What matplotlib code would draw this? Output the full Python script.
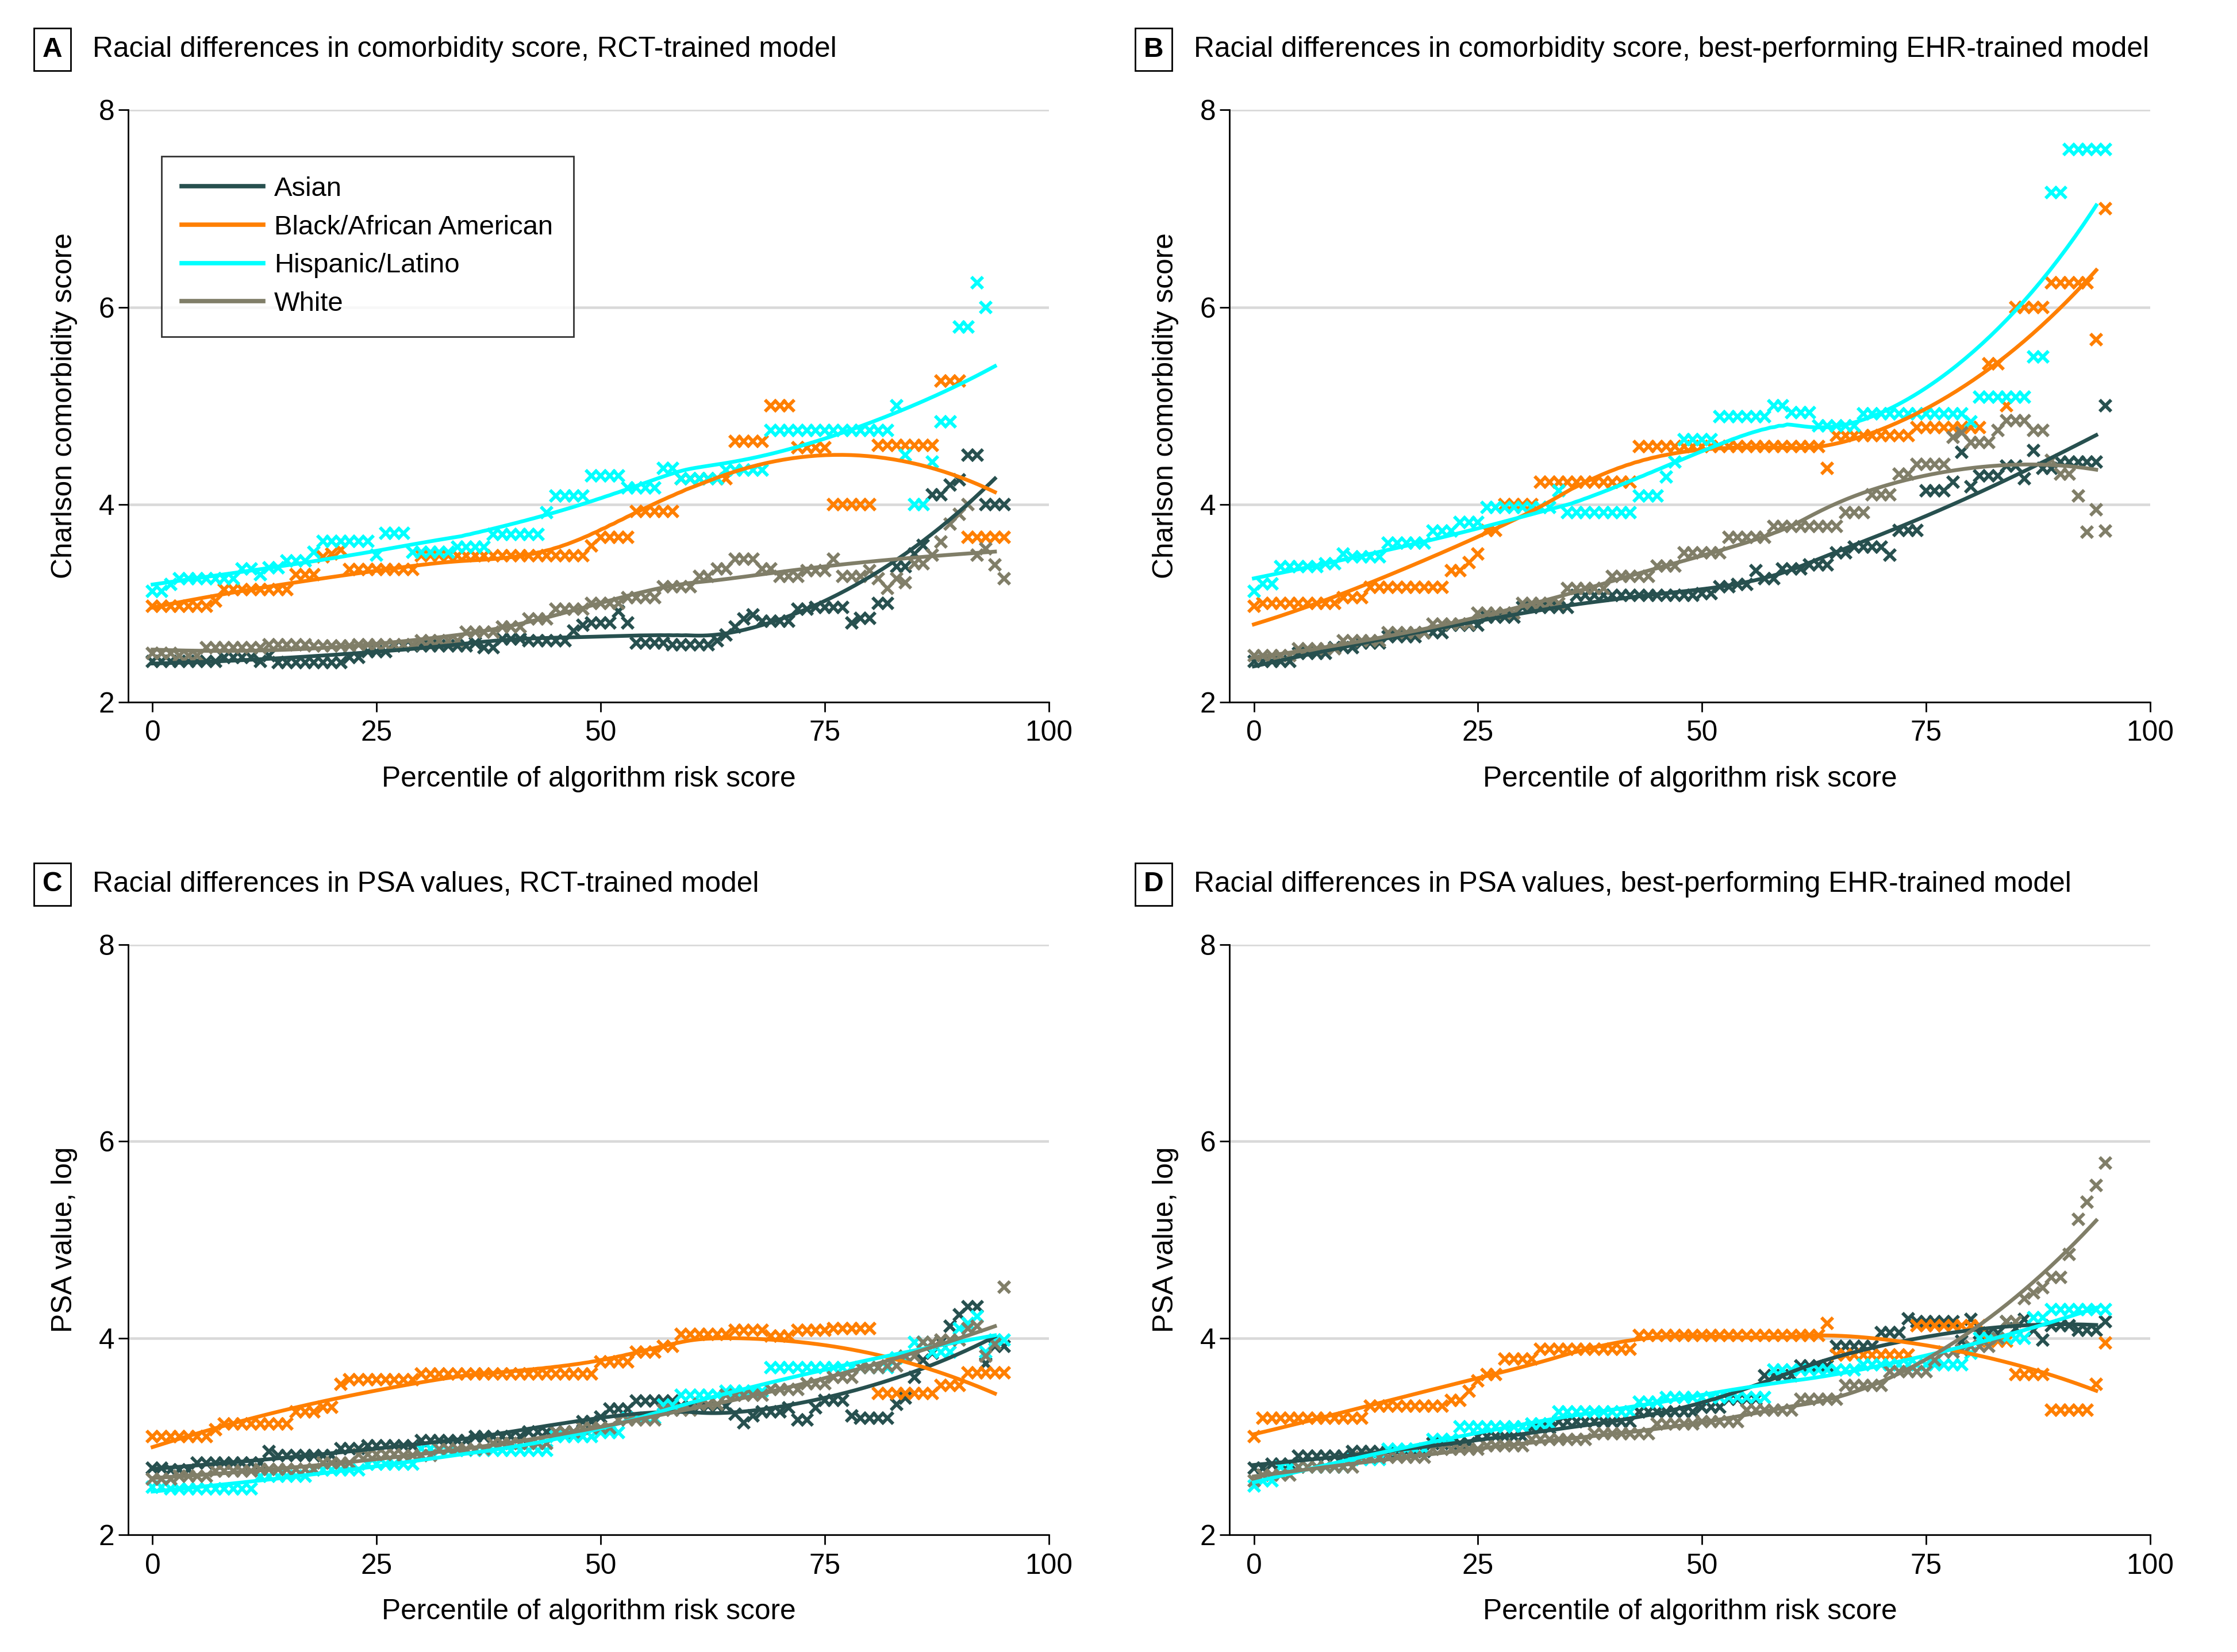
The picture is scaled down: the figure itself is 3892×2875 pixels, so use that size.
import numpy as np
import matplotlib.pyplot as plt
from matplotlib.lines import Line2D

plt.rcParams['font.family'] = ['Liberation Sans', 'DejaVu Sans']
FS = 14.3

# percentile of algorithm risk score (x for every series)
pct = np.arange(96)

groups = ["Asian", "Black/African American", "Hispanic/Latino", "White"]
colors = ["#27504F", "#FF7F00", "#00FFFF", "#807E68"]

# ---- Panel A: comorbidity score, RCT-trained model ----
a_asian = [2.41, 2.41, 2.41, 2.41, 2.41, 2.41, 2.41, 2.41, 2.45, 2.45, 2.45, 2.45,
           2.41, 2.47, 2.40, 2.40, 2.40, 2.40, 2.40, 2.40, 2.40, 2.40, 2.45, 2.45,
           2.51, 2.51, 2.51, 2.57, 2.57, 2.57, 2.57, 2.57, 2.57, 2.57, 2.57, 2.57,
           2.60, 2.55, 2.55, 2.64, 2.64, 2.64, 2.62, 2.62, 2.62, 2.62, 2.62, 2.72,
           2.78, 2.80, 2.80, 2.80, 2.92, 2.80, 2.60, 2.60, 2.60, 2.60, 2.58, 2.58,
           2.58, 2.58, 2.58, 2.62, 2.68, 2.76, 2.84, 2.88, 2.82, 2.82, 2.82, 2.82,
           2.94, 2.94, 2.96, 2.96, 2.96, 2.96, 2.80, 2.85, 2.85, 3.00, 3.00, 3.37,
           3.37, 3.50, 3.59, 4.10, 4.10, 4.20, 4.25, 4.50, 4.50, 4.00, 4.00, 4.00]
a_black = [2.97, 2.97, 2.97, 2.97, 2.97, 2.97, 2.97, 3.02, 3.14, 3.14, 3.14, 3.14,
           3.14, 3.14, 3.14, 3.14, 3.29, 3.29, 3.29, 3.47, 3.50, 3.54, 3.34, 3.34,
           3.34, 3.34, 3.34, 3.34, 3.34, 3.34, 3.48, 3.48, 3.48, 3.48, 3.48, 3.48,
           3.48, 3.48, 3.48, 3.48, 3.48, 3.48, 3.48, 3.48, 3.48, 3.48, 3.48, 3.48,
           3.48, 3.58, 3.67, 3.67, 3.67, 3.67, 3.93, 3.93, 3.93, 3.93, 3.93, 4.26,
           4.26, 4.26, 4.26, 4.26, 4.26, 4.64, 4.64, 4.64, 4.64, 5.00, 5.00, 5.00,
           4.58, 4.58, 4.58, 4.58, 4.00, 4.00, 4.00, 4.00, 4.00, 4.60, 4.60, 4.60,
           4.60, 4.60, 4.60, 4.60, 5.25, 5.25, 5.25, 3.67, 3.67, 3.67, 3.67, 3.67]
a_hisp = [3.12, 3.12, 3.19, 3.25, 3.25, 3.25, 3.25, 3.25, 3.25, 3.25, 3.35, 3.35,
          3.29, 3.36, 3.36, 3.43, 3.43, 3.43, 3.52, 3.63, 3.63, 3.63, 3.63, 3.63,
          3.63, 3.49, 3.71, 3.71, 3.71, 3.52, 3.52, 3.52, 3.52, 3.52, 3.57, 3.57,
          3.57, 3.57, 3.70, 3.70, 3.70, 3.70, 3.70, 3.70, 3.92, 4.09, 4.09, 4.09,
          4.09, 4.29, 4.29, 4.29, 4.29, 4.17, 4.17, 4.17, 4.17, 4.37, 4.37, 4.26,
          4.26, 4.26, 4.26, 4.26, 4.35, 4.35, 4.35, 4.35, 4.35, 4.75, 4.75, 4.75,
          4.75, 4.75, 4.75, 4.75, 4.75, 4.75, 4.75, 4.75, 4.75, 4.75, 4.75, 5.00,
          4.50, 4.00, 4.00, 4.43, 4.84, 4.84, 5.80, 5.80, 6.25, 6.00, np.nan, np.nan]
a_white = [2.49, 2.49, 2.49, 2.47, 2.47, 2.47, 2.55, 2.55, 2.55, 2.55, 2.55, 2.55,
           2.55, 2.58, 2.58, 2.58, 2.58, 2.58, 2.57, 2.57, 2.57, 2.57, 2.57, 2.58,
           2.58, 2.58, 2.58, 2.58, 2.58, 2.58, 2.62, 2.62, 2.62, 2.62, 2.62, 2.71,
           2.71, 2.71, 2.71, 2.76, 2.76, 2.76, 2.84, 2.84, 2.84, 2.94, 2.94, 2.94,
           2.94, 3.00, 3.00, 3.00, 3.00, 3.06, 3.06, 3.06, 3.06, 3.17, 3.17, 3.17,
           3.17, 3.27, 3.27, 3.35, 3.35, 3.45, 3.45, 3.45, 3.35, 3.35, 3.27, 3.27,
           3.27, 3.33, 3.33, 3.33, 3.45, 3.27, 3.27, 3.27, 3.33, 3.25, 3.15, 3.25,
           3.21, 3.40, 3.40, 3.49, 3.62, 3.80, 3.90, 4.00, 3.49, 3.55, 3.39, 3.25]

# ---- Panel B: comorbidity score, best EHR-trained model ----
b_asian = [2.41, 2.41, 2.41, 2.41, 2.41, 2.49, 2.49, 2.49, 2.49, 2.55, 2.55, 2.55,
           2.60, 2.60, 2.60, 2.66, 2.66, 2.66, 2.66, 2.70, 2.70, 2.70, 2.78, 2.78,
           2.78, 2.78, 2.86, 2.86, 2.86, 2.86, 2.96, 2.96, 2.96, 2.96, 2.96, 2.96,
           3.08, 3.08, 3.08, 3.08, 3.08, 3.08, 3.08, 3.08, 3.08, 3.08, 3.08, 3.08,
           3.08, 3.08, 3.10, 3.10, 3.17, 3.17, 3.19, 3.19, 3.33, 3.25, 3.25, 3.35,
           3.35, 3.35, 3.39, 3.39, 3.39, 3.51, 3.51, 3.57, 3.57, 3.57, 3.57, 3.49,
           3.74, 3.74, 3.74, 4.14, 4.14, 4.14, 4.23, 4.53, 4.18, 4.29, 4.29, 4.29,
           4.39, 4.39, 4.26, 4.55, 4.37, 4.37, 4.43, 4.43, 4.43, 4.43, 4.43, 5.00]
b_black = [2.97, 3.00, 3.00, 3.00, 3.00, 3.00, 3.00, 3.00, 3.00, 3.00, 3.06, 3.06,
           3.06, 3.16, 3.16, 3.16, 3.16, 3.16, 3.16, 3.16, 3.16, 3.16, 3.33, 3.33,
           3.41, 3.50, 3.74, 3.74, 4.00, 4.00, 4.00, 4.00, 4.23, 4.23, 4.23, 4.23,
           4.23, 4.23, 4.23, 4.23, 4.23, 4.23, 4.23, 4.59, 4.59, 4.59, 4.59, 4.59,
           4.59, 4.59, 4.59, 4.59, 4.59, 4.59, 4.59, 4.59, 4.59, 4.59, 4.59, 4.59,
           4.59, 4.59, 4.59, 4.59, 4.37, 4.70, 4.70, 4.70, 4.70, 4.70, 4.70, 4.70,
           4.70, 4.70, 4.78, 4.78, 4.78, 4.78, 4.78, 4.78, 4.78, 4.78, 5.43, 5.43,
           5.00, 6.00, 6.00, 6.00, 6.00, 6.25, 6.25, 6.25, 6.25, 6.25, 5.67, 7.00]
b_hisp = [3.12, 3.20, 3.20, 3.37, 3.37, 3.37, 3.37, 3.37, 3.40, 3.40, 3.50, 3.47,
          3.47, 3.47, 3.47, 3.61, 3.61, 3.61, 3.61, 3.61, 3.73, 3.73, 3.73, 3.82,
          3.82, 3.82, 3.97, 3.97, 3.97, 3.97, 3.97, 3.97, 3.97, 3.97, 4.14, 3.92,
          3.92, 3.92, 3.92, 3.92, 3.92, 3.92, 3.92, 4.09, 4.09, 4.09, 4.28, 4.43,
          4.66, 4.66, 4.66, 4.66, 4.89, 4.89, 4.89, 4.89, 4.89, 4.89, 5.00, 5.00,
          4.93, 4.93, 4.93, 4.80, 4.80, 4.80, 4.80, 4.80, 4.92, 4.92, 4.92, 4.92,
          4.92, 4.92, 4.92, 4.92, 4.92, 4.92, 4.92, 4.92, 4.84, 5.09, 5.09, 5.09,
          5.09, 5.09, 5.09, 5.50, 5.50, 7.16, 7.16, 7.60, 7.60, 7.60, 7.60, 7.60]
b_white = [2.47, 2.47, 2.47, 2.47, 2.47, 2.54, 2.54, 2.54, 2.54, 2.54, 2.62, 2.62,
           2.62, 2.62, 2.62, 2.70, 2.70, 2.70, 2.70, 2.70, 2.79, 2.79, 2.79, 2.79,
           2.79, 2.90, 2.90, 2.90, 2.90, 2.90, 3.00, 3.00, 3.00, 3.00, 3.00, 3.15,
           3.15, 3.15, 3.15, 3.15, 3.27, 3.27, 3.27, 3.27, 3.27, 3.38, 3.38, 3.38,
           3.51, 3.51, 3.51, 3.51, 3.51, 3.67, 3.67, 3.67, 3.67, 3.67, 3.78, 3.78,
           3.78, 3.78, 3.78, 3.78, 3.78, 3.78, 3.92, 3.92, 3.92, 4.10, 4.10, 4.10,
           4.31, 4.31, 4.41, 4.41, 4.41, 4.41, 4.68, 4.73, 4.63, 4.63, 4.63, 4.75,
           4.85, 4.85, 4.85, 4.75, 4.75, 4.45, 4.31, 4.31, 4.09, 3.72, 3.95, 3.73]

# ---- Panel C: PSA, RCT-trained model ----
c_asian = [2.68, 2.68, 2.66, 2.66, 2.66, 2.73, 2.73, 2.73, 2.73, 2.73, 2.73, 2.73,
           2.73, 2.85, 2.81, 2.81, 2.81, 2.81, 2.81, 2.81, 2.81, 2.88, 2.88, 2.88,
           2.91, 2.91, 2.91, 2.91, 2.91, 2.91, 2.96, 2.96, 2.96, 2.96, 2.96, 2.96,
           3.00, 3.00, 3.00, 3.00, 3.00, 3.00, 3.05, 3.05, 3.05, 3.05, 3.05, 3.05,
           3.15, 3.15, 3.20, 3.28, 3.28, 3.28, 3.36, 3.36, 3.36, 3.36, 3.36, 3.31,
           3.31, 3.31, 3.31, 3.31, 3.31, 3.23, 3.14, 3.21, 3.25, 3.25, 3.25, 3.29,
           3.17, 3.17, 3.29, 3.37, 3.37, 3.37, 3.21, 3.19, 3.19, 3.19, 3.19, 3.33,
           3.39, 3.60, 3.78, 3.85, 3.96, 4.12, 4.24, 4.32, 4.32, 3.74, 3.92, 3.92]
c_black = [3.00, 3.00, 3.00, 3.00, 3.00, 3.00, 3.00, 3.07, 3.13, 3.13, 3.13, 3.13,
           3.13, 3.13, 3.13, 3.13, 3.25, 3.25, 3.25, 3.30, 3.30, 3.53, 3.58, 3.58,
           3.58, 3.58, 3.58, 3.58, 3.58, 3.58, 3.64, 3.64, 3.64, 3.64, 3.64, 3.64,
           3.64, 3.64, 3.64, 3.64, 3.64, 3.64, 3.64, 3.64, 3.64, 3.64, 3.64, 3.64,
           3.64, 3.64, 3.76, 3.76, 3.76, 3.76, 3.86, 3.86, 3.86, 3.92, 3.92, 4.04,
           4.04, 4.04, 4.04, 4.04, 4.04, 4.08, 4.08, 4.08, 4.08, 4.02, 4.02, 4.02,
           4.08, 4.08, 4.08, 4.08, 4.10, 4.10, 4.10, 4.10, 4.10, 3.44, 3.44, 3.44,
           3.44, 3.44, 3.44, 3.44, 3.52, 3.52, 3.52, 3.65, 3.65, 3.65, 3.65, 3.65]
c_hisp = [2.49, 2.49, 2.47, 2.47, 2.47, 2.47, 2.47, 2.47, 2.47, 2.47, 2.47, 2.47,
          2.60, 2.60, 2.60, 2.60, 2.60, 2.60, 2.66, 2.66, 2.66, 2.66, 2.66, 2.66,
          2.72, 2.72, 2.72, 2.72, 2.72, 2.72, 2.88, 2.88, 2.86, 2.86, 2.86, 2.86,
          2.86, 2.86, 2.86, 2.86, 2.86, 2.86, 2.86, 2.86, 2.86, 3.00, 3.00, 3.00,
          3.00, 3.00, 3.04, 3.04, 3.04, 3.19, 3.19, 3.19, 3.19, 3.32, 3.32, 3.42,
          3.42, 3.42, 3.42, 3.42, 3.46, 3.46, 3.46, 3.46, 3.46, 3.70, 3.70, 3.70,
          3.70, 3.70, 3.70, 3.70, 3.70, 3.70, 3.70, 3.70, 3.70, 3.70, 3.70, 3.80,
          3.80, 3.96, 3.96, 3.86, 3.86, 3.86, 4.10, 4.15, 4.22, 3.86, 3.98, 3.98]
c_white = [2.57, 2.57, 2.57, 2.60, 2.60, 2.60, 2.60, 2.65, 2.65, 2.65, 2.65, 2.65,
           2.67, 2.67, 2.67, 2.67, 2.67, 2.67, 2.67, 2.73, 2.73, 2.73, 2.73, 2.82,
           2.82, 2.82, 2.82, 2.82, 2.81, 2.81, 2.81, 2.81, 2.87, 2.87, 2.87, 2.87,
           2.87, 2.87, 2.93, 2.93, 2.93, 2.93, 2.93, 2.93, 2.93, 3.05, 3.05, 3.05,
           3.09, 3.09, 3.09, 3.09, 3.17, 3.17, 3.17, 3.17, 3.17, 3.27, 3.27, 3.27,
           3.27, 3.33, 3.33, 3.33, 3.42, 3.42, 3.42, 3.42, 3.42, 3.48, 3.48, 3.48,
           3.48, 3.54, 3.54, 3.54, 3.60, 3.60, 3.60, 3.70, 3.70, 3.70, 3.72, 3.72,
           3.82, 3.82, 3.96, 3.96, 3.98, 3.98, 3.98, 4.10, 4.12, 3.82, 3.94, 4.52]

# ---- Panel D: PSA, best EHR-trained model ----
d_asian = [2.68, 2.68, 2.72, 2.72, 2.72, 2.80, 2.80, 2.80, 2.80, 2.80, 2.80, 2.85,
           2.85, 2.85, 2.85, 2.85, 2.85, 2.85, 2.85, 2.85, 2.93, 2.93, 2.93, 2.93,
           2.93, 3.00, 3.00, 3.00, 3.00, 3.00, 3.00, 3.09, 3.09, 3.09, 3.15, 3.15,
           3.15, 3.15, 3.15, 3.15, 3.15, 3.15, 3.15, 3.25, 3.25, 3.25, 3.25, 3.25,
           3.25, 3.25, 3.30, 3.30, 3.30, 3.38, 3.38, 3.38, 3.38, 3.62, 3.62, 3.62,
           3.62, 3.72, 3.72, 3.72, 3.72, 3.92, 3.92, 3.92, 3.92, 3.92, 4.06, 4.06,
           4.06, 4.20, 4.17, 4.17, 4.17, 4.17, 4.17, 3.97, 4.19, 4.05, 4.05, 4.05,
           4.17, 4.10, 4.19, 4.08, 3.98, 4.13, 4.13, 4.13, 4.08, 4.08, 4.08, 4.17]
d_black = [3.00, 3.19, 3.19, 3.19, 3.19, 3.19, 3.19, 3.19, 3.19, 3.19, 3.19, 3.19,
           3.19, 3.31, 3.31, 3.31, 3.31, 3.31, 3.31, 3.31, 3.31, 3.31, 3.37, 3.37,
           3.46, 3.57, 3.63, 3.63, 3.79, 3.79, 3.79, 3.79, 3.89, 3.89, 3.89, 3.89,
           3.89, 3.89, 3.89, 3.89, 3.89, 3.89, 3.89, 4.03, 4.03, 4.03, 4.03, 4.03,
           4.03, 4.03, 4.03, 4.03, 4.03, 4.03, 4.03, 4.03, 4.03, 4.03, 4.03, 4.03,
           4.03, 4.03, 4.03, 4.03, 4.15, 3.83, 3.83, 3.83, 3.83, 3.83, 3.83, 3.83,
           3.83, 3.83, 4.13, 4.13, 4.13, 4.13, 4.13, 4.13, 4.13, 4.13, 3.97, 3.97,
           3.97, 3.63, 3.63, 3.63, 3.63, 3.27, 3.27, 3.27, 3.27, 3.27, 3.53, 3.95]
d_hisp = [2.50, 2.55, 2.55, 2.69, 2.69, 2.69, 2.69, 2.69, 2.69, 2.69, 2.69, 2.77,
          2.77, 2.77, 2.77, 2.87, 2.87, 2.87, 2.87, 2.87, 2.97, 2.97, 2.97, 3.10,
          3.10, 3.10, 3.10, 3.10, 3.10, 3.10, 3.10, 3.13, 3.13, 3.13, 3.25, 3.25,
          3.25, 3.25, 3.25, 3.25, 3.25, 3.25, 3.25, 3.35, 3.35, 3.35, 3.40, 3.40,
          3.40, 3.40, 3.40, 3.40, 3.40, 3.40, 3.40, 3.40, 3.40, 3.40, 3.68, 3.68,
          3.68, 3.68, 3.68, 3.68, 3.68, 3.68, 3.68, 3.68, 3.73, 3.73, 3.73, 3.73,
          3.73, 3.73, 3.73, 3.73, 3.73, 3.73, 3.73, 3.73, 3.85, 4.00, 4.00, 4.00,
          4.00, 4.00, 4.00, 4.21, 4.21, 4.29, 4.29, 4.29, 4.29, 4.29, 4.29, 4.29]
d_white = [2.55, 2.61, 2.61, 2.61, 2.61, 2.69, 2.69, 2.69, 2.69, 2.69, 2.69, 2.69,
           2.79, 2.79, 2.79, 2.79, 2.79, 2.79, 2.79, 2.79, 2.87, 2.87, 2.87, 2.87,
           2.87, 2.87, 2.91, 2.91, 2.91, 2.91, 2.91, 2.97, 2.97, 2.97, 2.97, 2.97,
           2.97, 2.97, 3.03, 3.03, 3.03, 3.03, 3.03, 3.03, 3.03, 3.13, 3.13, 3.13,
           3.13, 3.13, 3.15, 3.15, 3.15, 3.15, 3.15, 3.27, 3.27, 3.27, 3.27, 3.27,
           3.27, 3.38, 3.38, 3.38, 3.38, 3.38, 3.52, 3.52, 3.52, 3.52, 3.52, 3.66,
           3.66, 3.66, 3.66, 3.66, 3.78, 3.86, 3.86, 3.88, 3.92, 3.92, 3.92, 4.00,
           4.17, 4.17, 4.40, 4.46, 4.51, 4.62, 4.62, 4.85, 5.21, 5.38, 5.55, 5.78]

panels = [
    ("A", "Racial differences in comorbidity score, RCT-trained model",
     "Charlson comorbidity score", [a_asian, a_black, a_hisp, a_white]),
    ("B", "Racial differences in comorbidity score, best-performing EHR-trained model",
     "Charlson comorbidity score", [b_asian, b_black, b_hisp, b_white]),
    ("C", "Racial differences in PSA values, RCT-trained model",
     "PSA value, log", [c_asian, c_black, c_hisp, c_white]),
    ("D", "Racial differences in PSA values, best-performing EHR-trained model",
     "PSA value, log", [d_asian, d_black, d_hisp, d_white]),
]


def loess(x, y, x_new, span=0.75):
    """Local quadratic regression with tricube weights (like R's loess default)."""
    q = int(np.floor(span * len(x)))
    out = []
    for x0 in x_new:
        d = np.abs(x - x0)
        h = np.sort(d)[q - 1]
        w = np.clip(1 - (d / h) ** 3, 0, None) ** 3
        X = np.column_stack([np.ones_like(x), x - x0, (x - x0) ** 2])
        W = np.sqrt(w)
        beta = np.linalg.lstsq(X * W[:, None], y * W, rcond=None)[0]
        out.append(beta[0])
    return np.array(out)


# axes rectangles (figure fraction)
rects = [[0.0574, 0.5751, 0.4114, 0.3584], [0.5497, 0.5751, 0.4114, 0.3584],
         [0.0574, 0.0708, 0.4114, 0.3575], [0.5497, 0.0708, 0.4114, 0.3575]]

fig = plt.figure(figsize=(15.568, 11.5), dpi=250)

for (letter, title, ylabel, series), rect in zip(panels, rects):
    ax = fig.add_axes(rect)
    x_fit = np.linspace(0, 94, 200)
    for vals, color in zip(series, colors):
        y = np.array(vals, dtype=float)
        ok = ~np.isnan(y)
        ax.plot(pct[ok], y[ok], 'x', color=color, markersize=6, mew=1.7,
                zorder=2, clip_on=False)
        # smoothed trend
        ax.plot(x_fit, loess(pct[ok].astype(float), y[ok], x_fit), color=color,
                lw=1.9, zorder=3)

    ax.set_xlim(-2.7, 100)
    ax.set_ylim(2, 8)
    ax.set_xticks([0, 25, 50, 75, 100])
    ax.set_yticks([2, 4, 6, 8])
    ax.grid(axis='y', color='#D9D9D9', lw=1.3, zorder=0)
    ax.set_axisbelow(True)
    for s in ['top', 'right']:
        ax.spines[s].set_visible(False)
    for s in ['left', 'bottom']:
        ax.spines[s].set_linewidth(0.8)
    ax.tick_params(direction='out', length=5, width=0.8, pad=2, labelsize=FS)
    ax.tick_params(axis='x', pad=4)

    ax.set_xlabel("Percentile of algorithm risk score", fontsize=FS)
    ax.xaxis.label.set_va('center')
    ax.xaxis.set_label_coords(0.5, -0.130)
    ax.set_ylabel(ylabel, fontsize=FS)
    ax.yaxis.label.set_va('center')
    ax.yaxis.set_label_coords(-0.0698, 0.5)

    # panel heading: boxed letter + title
    pos = ax.get_position()
    ty = pos.y1 + 0.0365
    fig.text(pos.x0 - 0.034, ty, letter, ha='center', va='center', fontsize=FS - 0.5,
             fontweight='bold',
             bbox=dict(boxstyle='square,pad=0.3', fc='white', ec='black', lw=0.8))
    fig.text(pos.x0 - 0.016, ty, title, ha='left', va='center', fontsize=FS)

    if letter == "A":
        handles = [Line2D([], [], color=c, lw=2.2) for c in colors]
        leg = ax.legend(handles, groups, loc='upper left', bbox_to_anchor=(0.036, 0.922),
                        frameon=True, fancybox=False, edgecolor='black', fontsize=13.6,
                        handlelength=3.0, handletextpad=0.4, labelspacing=0.48,
                        borderpad=0.75, borderaxespad=0)
        leg.get_frame().set_linewidth(0.8)

fig.savefig("out.png", dpi=250)
